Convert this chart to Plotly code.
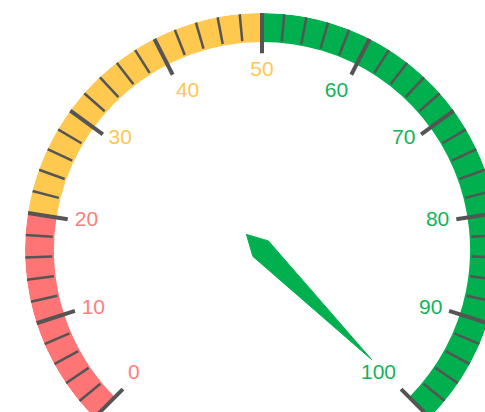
import plotly.graph_objects as go

# ---- data ----
band_edges = [0, 20, 50, 100]
band_colors = ["#ff7575", "#ffc84f", "#00b04f"]
label_colors = ["#ff7d7d", "#ffc84f", "#12b358"]
major_ticks = [0, 10, 20, 30, 40, 50, 60, 70, 80, 90, 100]
minor_ticks = list(range(0, 101, 2))
tick_labels = ["0", "10", "20", "30", "40", "50", "60", "70", "80", "90", "100"]
label_positions = ["top right", "middle right", "middle right", "middle right", "bottom right",
                   "bottom center", "bottom left", "middle left", "middle left", "middle left", "top left"]
needle_value = 100

# ---- gauge scale (value -> angle in degrees) ----
VMIN, VMAX = 0, 100
START, SWEEP = 225.0, 270.0
R_OUT, R_IN = 1.0, 0.878
R_MAJOR_IN = 0.83
R_MINOR_IN = 0.885
R_LABEL = 0.80
TICK_COLOR = "#555555"


def ang(v):
    return START - SWEEP * (v - VMIN) / (VMAX - VMIN)


def band_index(v):
    for i in range(len(band_colors)):
        if v <= band_edges[i + 1]:
            return i
    return len(band_colors) - 1


fig = go.Figure()

# colour bands
fig.add_trace(go.Barpolar(
    r=[R_OUT - R_IN] * len(band_colors),
    base=[R_IN] * len(band_colors),
    theta=[ang((band_edges[i] + band_edges[i + 1]) / 2) for i in range(len(band_colors))],
    width=[SWEEP * (band_edges[i + 1] - band_edges[i]) / (VMAX - VMIN) for i in range(len(band_colors))],
    marker=dict(color=band_colors, line=dict(width=0)),
    hoverinfo="skip",
))

# minor ticks
mr, mt = [], []
for v in minor_ticks:
    mr += [R_MINOR_IN, R_OUT, None]
    mt += [ang(v), ang(v), None]
fig.add_trace(go.Scatterpolar(r=mr, theta=mt, mode="lines",
                              line=dict(color=TICK_COLOR, width=2.5), hoverinfo="skip"))

# major ticks
Mr, Mt = [], []
for v in major_ticks:
    Mr += [R_MAJOR_IN, R_OUT, None]
    Mt += [ang(v), ang(v), None]
fig.add_trace(go.Scatterpolar(r=Mr, theta=Mt, mode="lines",
                              line=dict(color=TICK_COLOR, width=4), hoverinfo="skip"))

# labels
fig.add_trace(go.Scatterpolar(
    r=[R_LABEL] * len(major_ticks),
    theta=[ang(v) for v in major_ticks],
    text=tick_labels,
    mode="text",
    textposition=label_positions,
    textfont=dict(family="Liberation Sans, Arial, sans-serif", size=21,
                  color=[label_colors[band_index(v)] for v in major_ticks]),
    hoverinfo="skip",
))

# needle
a = ang(needle_value)
nc = band_colors[band_index(needle_value)]
fig.add_trace(go.Scatterpolar(
    r=[0.654, 0.047, 0.093, 0.047, 0.654],
    theta=[a, a + 100, a + 180, a - 100, a],
    mode="lines",
    fill="toself",
    fillcolor=nc,
    line=dict(color=nc, width=1),
    hoverinfo="skip",
))

fig.update_layout(
    width=524, height=500,
    margin=dict(l=25, r=25, t=13, b=13),
    showlegend=False,
    paper_bgcolor="white",
    polar=dict(
        domain=dict(x=[0, 1], y=[0, 1]),
        bgcolor="white",
        radialaxis=dict(range=[0, 1], visible=False, showgrid=False),
        angularaxis=dict(visible=False, showgrid=False, rotation=0, direction="counterclockwise"),
    ),
)

fig.write_html(
    "out.html",
    config={"displayModeBar": False},
    post_script="document.body.style.margin='0';document.body.style.overflow='hidden';"
                "document.documentElement.style.overflow='hidden';",
)
